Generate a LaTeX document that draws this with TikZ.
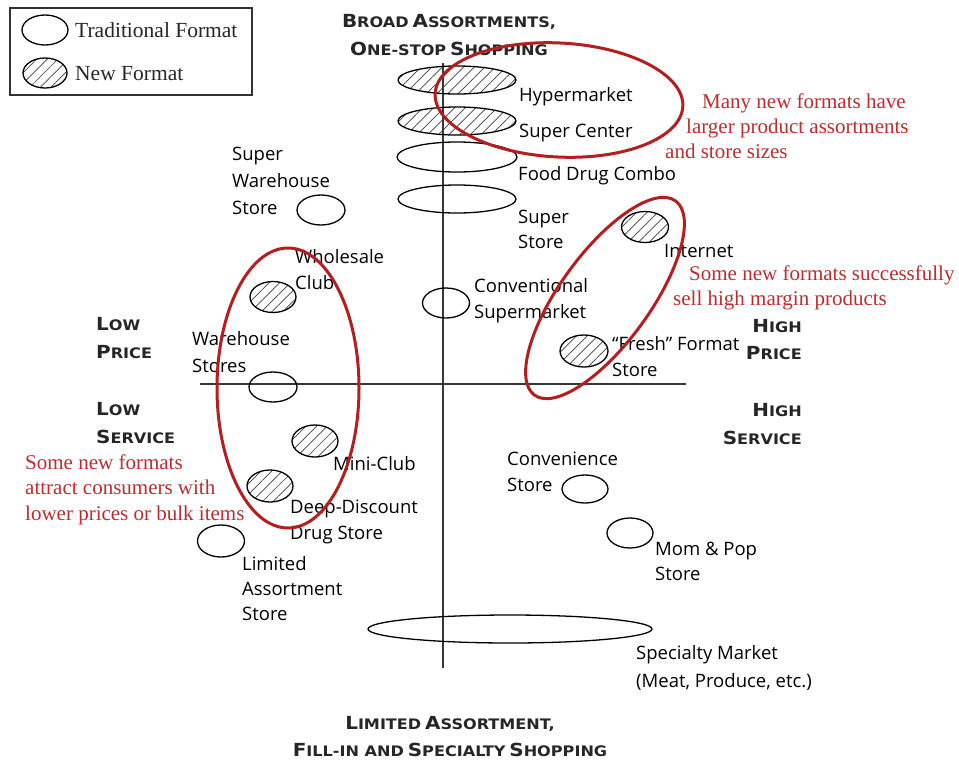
\documentclass[tikz,border=0pt]{standalone}
\usepackage{fontspec}
\setmainfont{Liberation Serif}
\newfontfamily\lblfont{Open Sans}
\newfontfamily\capfont[FakeStretch=1.11]{DejaVu Sans}
\usetikzlibrary{shapes.geometric,patterns.meta}
\definecolor{annot}{RGB}{180,30,30}
\definecolor{annottext}{RGB}{190,45,45}
\definecolor{axisgray}{RGB}{55,55,55}
\newcommand\SCw[2]{{\fontsize{18}{18}\selectfont #1}{\fontsize{14.5}{14.5}\selectfont #2}}
\newcommand\LinesL[2]{\vtop{\baselineskip=#1pt\lineskiplimit=-30pt\halign{##\hfil\cr#2\crcr}}}
\newcommand\LinesR[2]{\vtop{\baselineskip=#1pt\lineskiplimit=-30pt\halign{\hfil##\cr#2\crcr}}}
\newcommand\LinesC[2]{\vtop{\baselineskip=#1pt\lineskiplimit=-30pt\halign{\hfil##\hfil\cr#2\crcr}}}
\tikzset{
  trad/.style={draw=black, ellipse, inner sep=0pt, line width=1.3pt},
  newf/.style={trad, pattern={Lines[angle=45,distance=7.5pt,line width=0.7pt]}, pattern color=black!75},
  lbl/.style={inner sep=0pt, anchor=base west, font=\lblfont\fontsize{18.5}{22}\selectfont},
  note/.style={inner sep=0pt, anchor=base west, text=annottext, font=\fontsize{21}{25}\selectfont},
  legtext/.style={inner sep=0pt, anchor=base west, font=\fontsize{21.5}{25}\selectfont, text=black!85},
  axlbl/.style={inner sep=0pt, font=\capfont\bfseries, text=black!85},
  ring/.style={draw=annot, ellipse, line width=3pt, inner sep=0pt},
  axisline/.style={draw=axisgray, line width=1.8pt},
}
\begin{document}
\begin{tikzpicture}[x=1pt,y=-1pt]
\useasboundingbox[fill=white] (0,0) rectangle (959,764);

% legend
\node[draw=black!80, line width=1.4pt, minimum width=242, minimum height=87, inner sep=0pt] (legendbox) at (131,51.5) {};
\node[trad, minimum width=46, minimum height=30] (legtrad) at (45,30) {};
\node[newf, minimum width=44, minimum height=30] (legnew) at (45,73) {};
\node[legtext] (legtradtxt) at (75,37) {Traditional Format};
\node[legtext] (legnewtxt) at (75,80) {New Format};

% axes
\coordinate (vtop) at (443,63);
\coordinate (vbot) at (443,668);
\coordinate (hleft) at (200,384);
\coordinate (hright) at (686,384);
\draw[axisline] (vtop) -- (vbot);
\draw[axisline] (hleft) -- (hright);

% store markers
\node[newf, minimum width=118, minimum height=28] (hyper) at (457,80) {};
\node[newf, minimum width=118, minimum height=28] (supercenter) at (457,121) {};
\node[trad, minimum width=120, minimum height=30] (fooddrug) at (457,157) {};
\node[trad, minimum width=118, minimum height=28] (superstore) at (457,199) {};
\node[trad, minimum width=48, minimum height=30] (superwh) at (321,210) {};
\node[newf, minimum width=46, minimum height=31] (wholesale) at (273,297) {};
\node[trad, minimum width=47, minimum height=30] (conv) at (446,303) {};
\node[trad, minimum width=48, minimum height=30] (warehouse) at (273,387) {};
\node[newf, minimum width=47, minimum height=31] (internet) at (645,227) {};
\node[newf, minimum width=48, minimum height=32] (fresh) at (584,351) {};
\node[newf, minimum width=46, minimum height=32] (miniclub) at (315,441) {};
\node[newf, minimum width=46, minimum height=32] (deepdisc) at (270,486) {};
\node[trad, minimum width=47, minimum height=32] (limited) at (221,541) {};
\node[trad, minimum width=46, minimum height=28] (conven) at (585,489) {};
\node[trad, minimum width=46, minimum height=30] (mompop) at (630,533) {};
\node[trad, minimum width=284, minimum height=28] (specialty) at (510,629) {};

% store labels
\node[lbl] (hyperlbl) at (519,101) {Hypermarket};
\node[lbl] (supercenterlbl) at (519,137) {Super Center};
\node[lbl] (fooddruglbl) at (518,180) {Food Drug Combo};
\node[lbl] (superstorelbl) at (518,223) {\LinesL{25}{Super\cr Store}};
\node[lbl] (superwhlbl) at (232,160) {\LinesL{27}{Super\cr Warehouse\cr Store}};
\node[lbl] (wholesalelbl) at (295,263) {\LinesL{26}{Wholesale\cr Club}};
\node[lbl] (convlbl) at (474,292) {\LinesL{26}{Conventional\cr Supermarket}};
\node[lbl] (warehouselbl) at (192,345) {\LinesL{27}{Warehouse\cr Stores}};
\node[lbl] (internetlbl) at (664,257) {Internet};
\node[lbl] (freshlbl) at (612,350) {\LinesL{26}{“Fresh” Format\cr Store}};
\node[lbl] (miniclublbl) at (333,470) {Mini-Club};
\node[lbl] (deepdisclbl) at (290,513) {\LinesL{26}{Deep-Discount\cr Drug Store}};
\node[lbl] (limitedlbl) at (242,570) {\LinesL{25}{Limited\cr Assortment\cr Store}};
\node[lbl] (convenlbl) at (507,465) {\LinesL{26}{Convenience\cr Store}};
\node[lbl] (mompoplbl) at (655,555) {\LinesL{25}{Mom \& Pop\cr Store}};
\node[lbl] (specialtylbl) at (636,659) {\LinesL{28}{Specialty Market\cr (Meat, Produce, etc.)}};

% axis labels
\node[axlbl, anchor=base] (toplbl) at (449,27) {\LinesC{28}{\SCw{B}{ROAD} \SCw{A}{SSORTMENTS,}\cr \SCw{O}{NE-STOP} \SCw{S}{HOPPING}}};
\node[axlbl, anchor=base] (botlbl) at (450,729) {\LinesC{27}{\SCw{L}{IMITED} \SCw{A}{SSORTMENT,}\cr \SCw{F}{ILL-IN AND} \SCw{S}{PECIALTY} \SCw{S}{HOPPING}}};
\node[axlbl, anchor=base west] (lowprice) at (96,330) {\LinesL{28}{\SCw{L}{OW}\cr \SCw{P}{RICE}}};
\node[axlbl, anchor=base west] (lowservice) at (96,415) {\LinesL{28}{\SCw{L}{OW}\cr \SCw{S}{ERVICE}}};
\node[axlbl, anchor=base east] (highprice) at (802,332) {\LinesR{27}{\SCw{H}{IGH}\cr \SCw{P}{RICE}}};
\node[axlbl, anchor=base east] (highservice) at (802,416) {\LinesR{28}{\SCw{H}{IGH}\cr \SCw{S}{ERVICE}}};

% annotation rings
\node[ring, minimum width=248, minimum height=114, rotate=-3] (ringtop) at (559,100) {};
\node[ring, minimum width=240, minimum height=90, rotate=54] (ringright) at (605,298) {};
\node[ring, minimum width=142, minimum height=280] (ringleft) at (288,388) {};

% annotation texts
\node[note] (notetop) at (665,108) {\LinesL{25}{\hspace*{37pt}Many new formats have\cr \hspace*{21pt}larger product assortments\cr and store sizes}};
\node[note] (noteright) at (673,280) {\LinesL{25}{\hspace*{16pt}Some new formats successfully\cr sell high margin products}};
\node[note] (noteleft) at (25,469) {\LinesL{25.5}{Some new formats\cr attract consumers with\cr lower prices or bulk items}};
\end{tikzpicture}
\end{document}
